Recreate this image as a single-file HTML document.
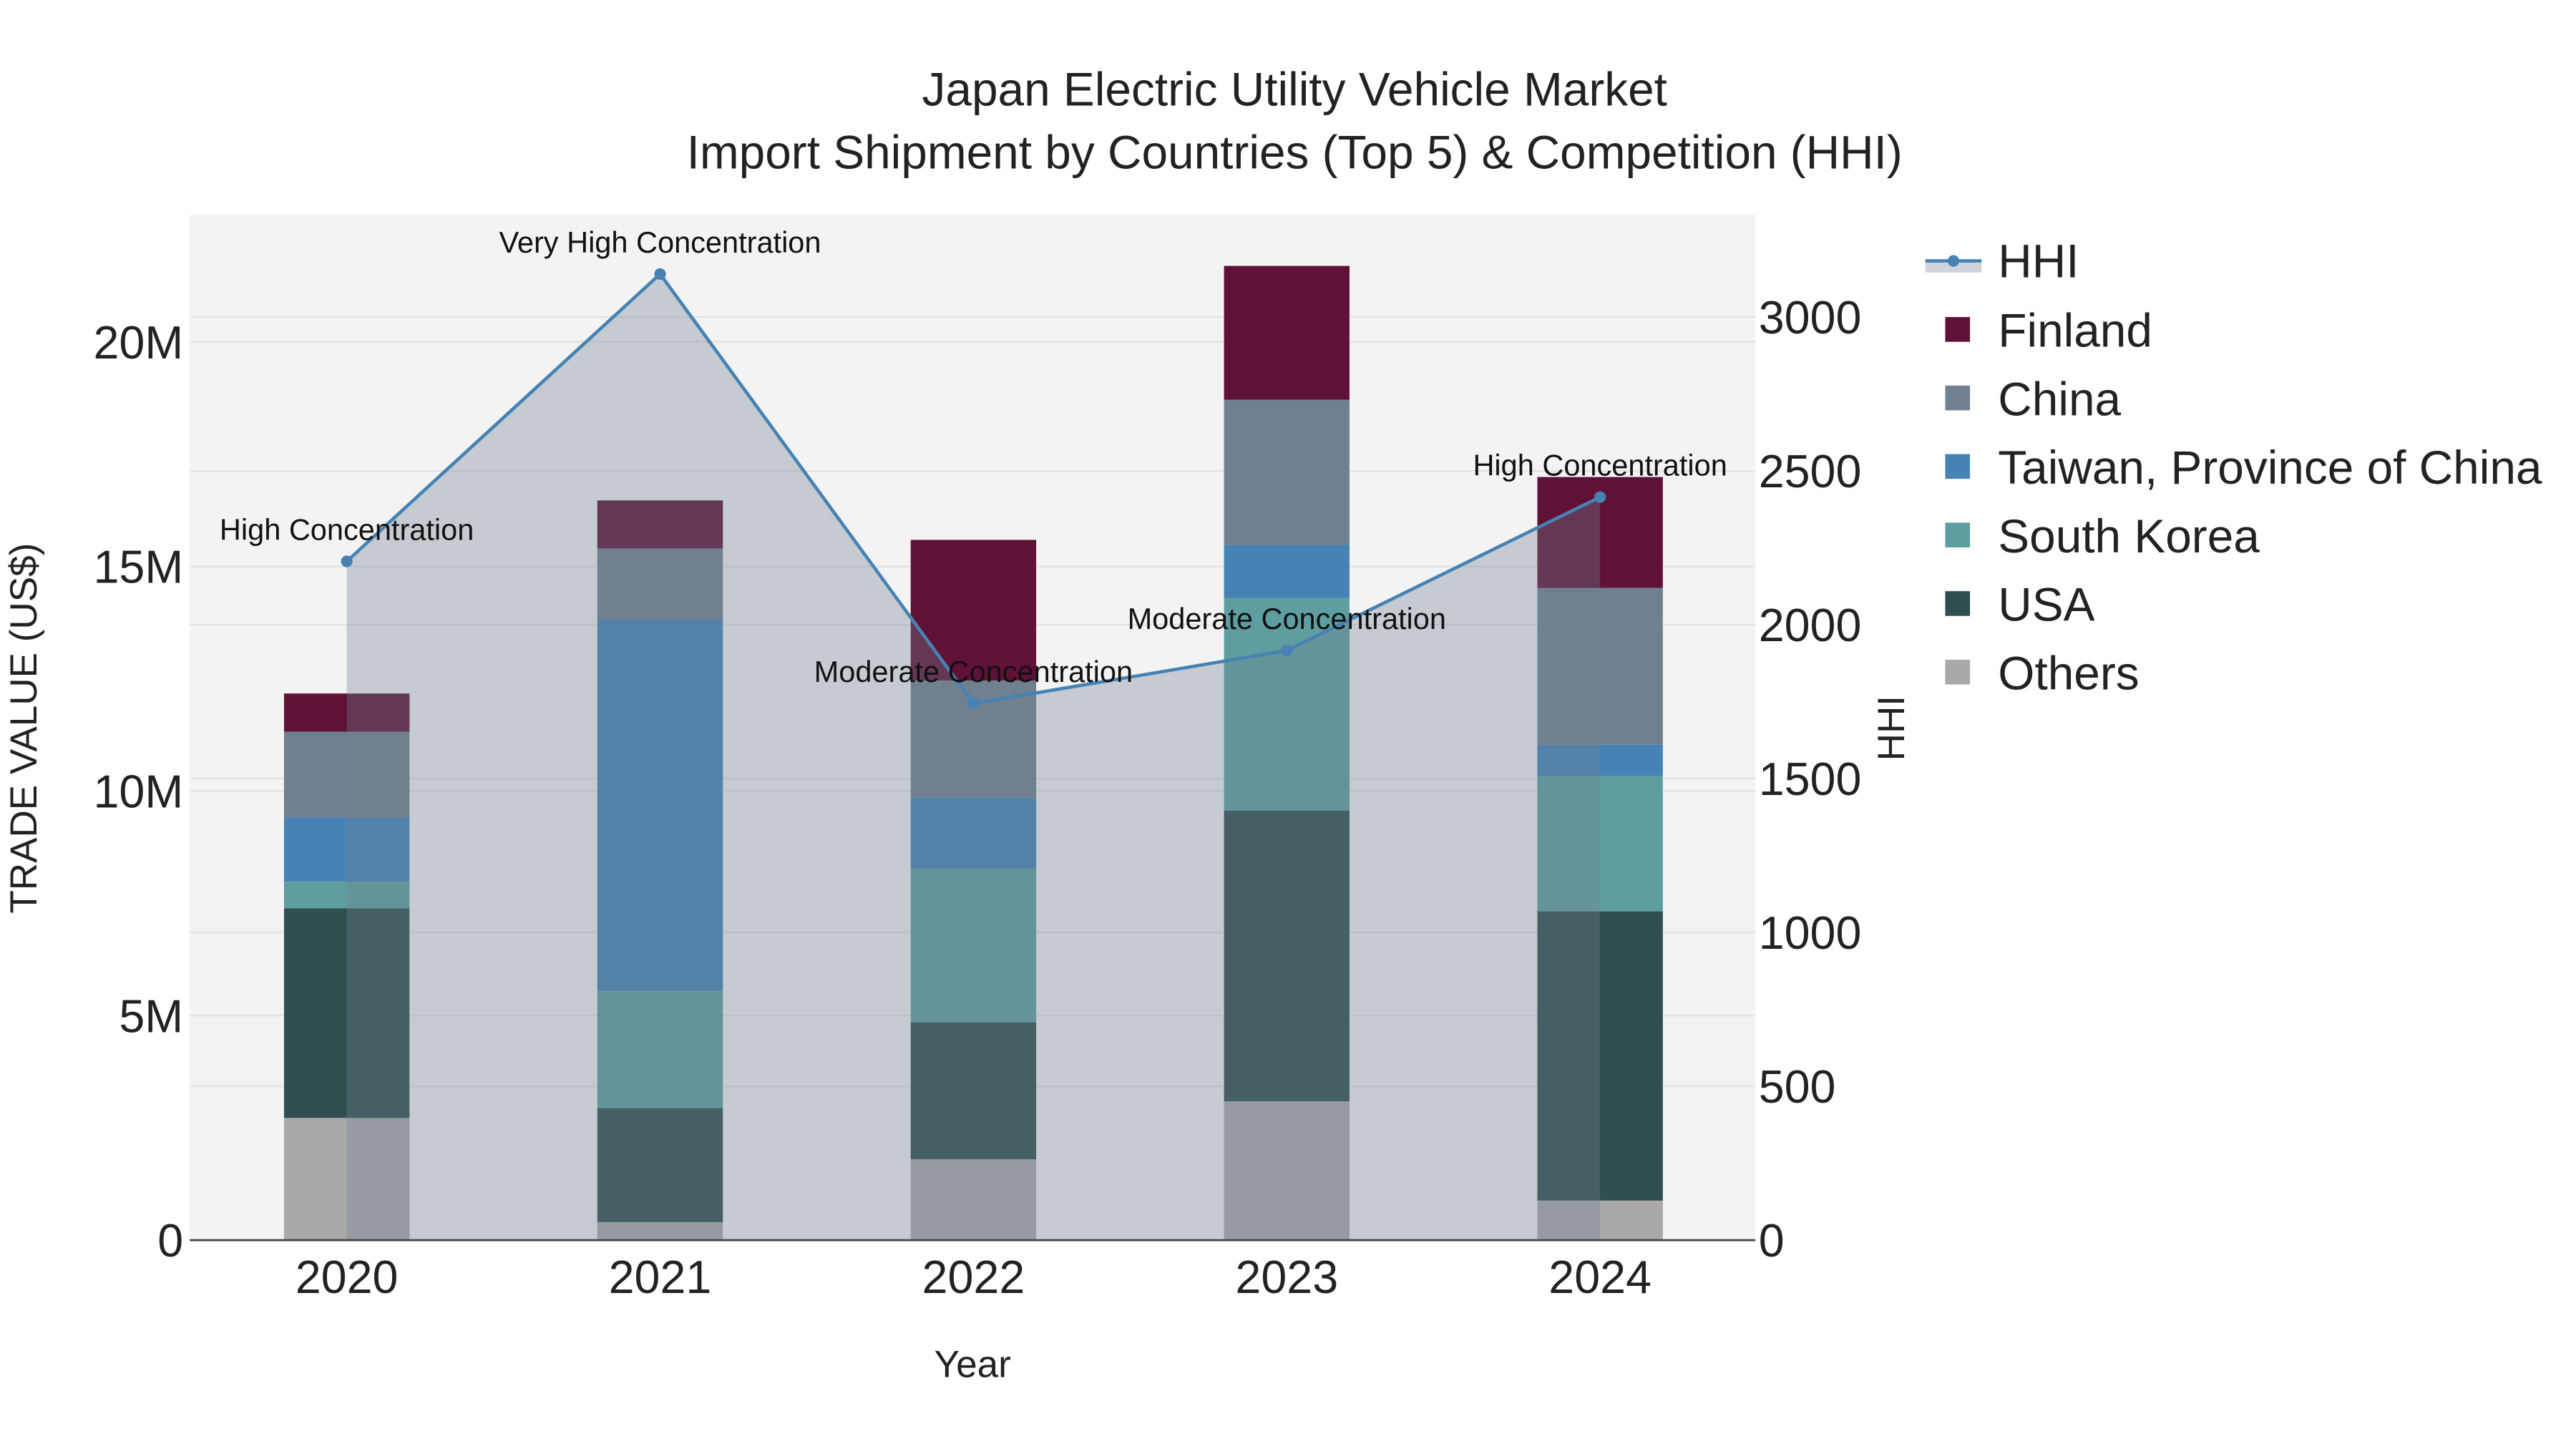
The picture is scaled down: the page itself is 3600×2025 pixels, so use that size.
<!DOCTYPE html>
<html><head><meta charset="utf-8"><style>
html,body{margin:0;padding:0;background:#fff;}
svg{display:block;font-family:"Liberation Sans",Arial,sans-serif;}
</style></head><body>
<svg id="chart" width="3600" height="2025" viewBox="0 0 1560 877.5" xmlns="http://www.w3.org/2000/svg">
<rect x="115" y="130" width="948" height="621" fill="#f3f3f3"/>
<g id="grid"></g>
<g id="bars"></g>
<g id="hhi"></g>
<g id="axes"></g>
<text x="784" y="64" text-anchor="middle" font-size="28.5" fill="#222">Japan Electric Utility Vehicle Market</text>
<text x="784" y="102" text-anchor="middle" font-size="28.5" fill="#222">Import Shipment by Countries (Top 5) &amp; Competition (HHI)</text>
<text x="589" y="834" text-anchor="middle" font-size="23" fill="#222">Year</text>
<text transform="translate(22,441) rotate(-90)" text-anchor="middle" font-size="23" fill="#222">TRADE VALUE (US$)</text>
<text transform="translate(1153,441) rotate(-90)" text-anchor="middle" font-size="23" fill="#222">HHI</text>
<g id="legend"></g>
</svg>
<script>
const years = ["2020","2021","2022","2023","2024"];
const others = [2.72, 0.40, 1.80, 3.09, 0.88];
const usa = [4.67, 2.54, 3.05, 6.47, 6.44];
const southKorea = [0.59, 2.61, 3.42, 4.74, 3.01];
const taiwan = [1.43, 8.27, 1.58, 1.18, 0.70];
const china = [1.91, 1.58, 2.61, 3.23, 3.49];
const finland = [0.85, 1.07, 3.13, 2.98, 2.47];
const hhi = [2206, 3140, 1744, 1916, 2415];
const hhiLabels = ["High Concentration","Very High Concentration","Moderate Concentration","Moderate Concentration","High Concentration"];
const leftTicks = [0,5,10,15,20];
const leftTickLabels = ["0","5M","10M","15M","20M"];
const rightTicks = [0,500,1000,1500,2000,2500,3000];

const NS="http://www.w3.org/2000/svg";
function mk(tag,attrs,parent){const e=document.createElementNS(NS,tag);for(const k in attrs)e.setAttribute(k,attrs[k]);parent.appendChild(e);return e;}
const xL=115,xR=1063,yB=751;
function xScale(i){return 210+i*189.75;}
function yL(v){return yB-v*27.2;}
function yR(v){return yB-v*0.18633;}
const bw=76;

const grid=document.getElementById('grid');
leftTicks.forEach(t=>{const l=mk('line',{x1:xL,x2:xR,y1:yL(t),y2:yL(t),stroke:'#e2e2e2','stroke-width':1},grid);

});
rightTicks.forEach(t=>{const l=mk('line',{x1:xL,x2:xR,y1:yR(t),y2:yR(t),stroke:'#e2e2e2','stroke-width':1},grid);

});

const series=[["others",others,"#a9a9a9"],["usa",usa,"#2f4f4f"],["south-korea",southKorea,"#5f9ea0"],["taiwan",taiwan,"#4682b4"],["china",china,"#708090"],["finland",finland,"#5f1235"]];
const bars=document.getElementById('bars');
years.forEach((y,i)=>{let base=0;series.forEach(s=>{const v=s[1][i];const r=mk('rect',{x:xScale(i)-bw/2,y:yL(base+v),width:bw,height:yL(base)-yL(base+v),fill:s[2]},bars);


base+=v;});});

const hg=document.getElementById('hhi');
let pts=hhi.map((v,i)=>xScale(i)+','+yR(v)).join(' ');
const area=mk('polygon',{points:xScale(0)+','+yB+' '+pts+' '+xScale(4)+','+yB,fill:'rgba(112,128,144,0.35)'},hg);


const line=mk('polyline',{points:pts,fill:'none',stroke:'#4682b4','stroke-width':2},hg);


hhi.forEach((v,i)=>{const c=mk('circle',{cx:xScale(i),cy:yR(v),r:3.5,fill:'#4682b4'},hg);


const t=mk('text',{x:xScale(i),y:yR(v)-13,'text-anchor':'middle','font-size':18,fill:'#111'},hg);


t.textContent=hhiLabels[i];});

const ax=document.getElementById('axes');
const al=mk('line',{x1:xL,x2:xR,y1:yB,y2:yB,stroke:'#444','stroke-width':1.2},ax);


years.forEach((y,i)=>{const t=mk('text',{x:xScale(i),y:783,'text-anchor':'middle','font-size':28,fill:'#222'},ax);


t.textContent=y;});
leftTicks.forEach((v,i)=>{const t=mk('text',{x:111,y:yL(v)+10,'text-anchor':'end','font-size':28,fill:'#222'},ax);


t.textContent=leftTickLabels[i];});
rightTicks.forEach(v=>{const t=mk('text',{x:1065,y:yR(v)+10,'text-anchor':'start','font-size':28,fill:'#222'},ax);


t.textContent=String(v);});

const lg=document.getElementById('legend');
const hb=mk('rect',{x:1166,y:158,width:34,height:7,fill:'rgba(112,128,144,0.35)'},lg);


const hl=mk('line',{x1:1166,x2:1200,y1:158,y2:158,stroke:'#4682b4','stroke-width':2},lg);


const hc=mk('circle',{cx:1183,cy:158,r:3.5,fill:'#4682b4'},lg);


const ht=mk('text',{x:1210,y:168,'font-size':28.5,fill:'#222'},lg);


ht.textContent='HHI';
const legItems=[["Finland","#5f1235"],["China","#708090"],["Taiwan, Province of China","#4682b4"],["South Korea","#5f9ea0"],["USA","#2f4f4f"],["Others","#a9a9a9"]];
legItems.forEach((it,i)=>{const y=200+i*41.5;
const r=mk('rect',{x:1178,y:y-8,width:15,height:15,fill:it[1]},lg);


const t=mk('text',{x:1210,y:y+10,'font-size':28.5,fill:'#222'},lg);


t.textContent=it[0];});
</script>
</body></html>
